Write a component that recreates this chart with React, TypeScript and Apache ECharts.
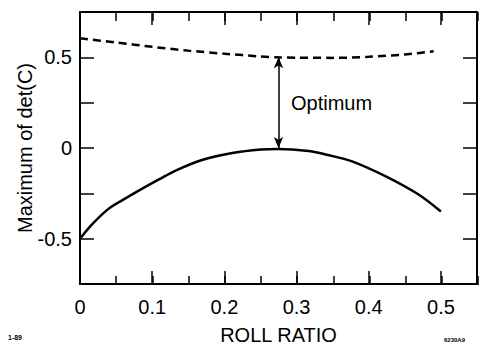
import React, { useEffect, useRef } from "react";
import * as echarts from "echarts";

// Roll ratio samples and the two curves of max det(C)
const solidX = [0, 0.017, 0.039, 0.06, 0.085, 0.11, 0.131, 0.169, 0.211, 0.25, 0.275, 0.317, 0.344, 0.376, 0.423, 0.468, 0.5];
const solidY = [-0.5, -0.42, -0.337, -0.285, -0.227, -0.172, -0.127, -0.066, -0.028, -0.008, -0.005, -0.017, -0.039, -0.072, -0.155, -0.254, -0.35];

const dashedX = [0, 0.05, 0.1, 0.15, 0.2, 0.25, 0.275, 0.3, 0.35, 0.4, 0.45, 0.49];
const dashedY = [0.605, 0.582, 0.558, 0.537, 0.52, 0.505, 0.5, 0.498, 0.497, 0.503, 0.516, 0.533];

// Optimum gap marker at this roll ratio
const optimumX = 0.275;
const optimumTop = 0.5;
const optimumBottom = 0;

const xLabelValues = [0, 0.1, 0.2, 0.3, 0.4, 0.5];
const yLabelValues = [-0.5, 0, 0.5];

const FONT = "'Liberation Sans', Arial, Helvetica, sans-serif";

const near = (a: number, b: number) => Math.abs(a - b) < 1e-6;

export default function App() {
  const ref = useRef<HTMLDivElement>(null);

  useEffect(() => {
    if (!ref.current) return;
    const chart = echarts.init(ref.current, undefined, { renderer: "svg" });

    const xFmt = (v: number) => {
      const hit = xLabelValues.find((t) => near(t, v));
      if (hit === undefined) return "";
      return hit === 0 ? "0" : hit.toFixed(1);
    };
    const yFmt = (v: number) => {
      const hit = yLabelValues.find((t) => near(t, v));
      if (hit === undefined) return "";
      return hit === 0 ? "0" : String(hit);
    };

    const gridRect = { left: 80, right: 2, top: 12, bottom: 65 };
    const frameLine = { show: true, onZero: false, lineStyle: { color: "#000", width: 2 } };

    const majorX = (position: "top" | "bottom", labels: boolean) => ({
      type: "value" as const,
      gridIndex: 0,
      position,
      min: 0,
      max: 0.55,
      interval: 0.1,
      axisLine: frameLine,
      axisTick: { show: true, inside: true, length: 13, lineStyle: { color: "#000", width: 1.5 } },
      axisLabel: labels
        ? { show: true, formatter: xFmt, color: "#000", fontSize: 20, fontFamily: FONT, margin: 13 }
        : { show: false },
      splitLine: { show: false },
      ...(labels
        ? {
            name: "ROLL RATIO",
            nameLocation: "middle" as const,
            nameGap: 41,
            nameMoveOverlap: false,
            nameTextStyle: { color: "#000", fontSize: 20, fontFamily: FONT },
          }
        : {}),
    });

    const minorX = (position: "top" | "bottom") => ({
      type: "value" as const,
      gridIndex: 1,
      position,
      min: 0,
      max: 0.55,
      interval: 0.05,
      axisLine: { show: false, onZero: false },
      axisTick: { show: true, inside: true, length: 9, lineStyle: { color: "#000", width: 1.5 } },
      axisLabel: { show: false },
      splitLine: { show: false },
    });

    const yAx = (position: "left" | "right", labels: boolean) => ({
      type: "value" as const,
      gridIndex: 0,
      position,
      min: -0.75,
      max: 0.75,
      interval: 0.25,
      axisLine: frameLine,
      axisTick: { show: true, inside: true, length: 14, lineStyle: { color: "#000", width: 1.5 } },
      axisLabel: labels
        ? { show: true, formatter: yFmt, color: "#000", fontSize: 20, fontFamily: FONT, margin: 8 }
        : { show: false },
      splitLine: { show: false },
      ...(labels
        ? {
            name: "Maximum of det(C)",
            nameLocation: "middle" as const,
            nameGap: 45,
            nameMoveOverlap: false,
            nameTextStyle: { color: "#000", fontSize: 20, fontFamily: FONT },
          }
        : {}),
    });

    chart.setOption({
      animation: false,
      backgroundColor: "#fff",
      grid: [
        { ...gridRect, containLabel: false },
        { ...gridRect, containLabel: false },
      ],
      xAxis: [majorX("bottom", true), majorX("top", false), minorX("bottom"), minorX("top")],
      yAxis: [
        yAx("left", true),
        yAx("right", false),
        { type: "value", gridIndex: 1, min: -0.75, max: 0.75, show: false },
      ],
      series: [
        {
          type: "line",
          xAxisIndex: 0,
          yAxisIndex: 0,
          data: solidX.map((x, i) => [x, solidY[i]]),
          smooth: 0.3,
          showSymbol: false,
          symbol: "none",
          lineStyle: { color: "#000", width: 2.5 },
          markLine: {
            silent: true,
            symbol: ["arrow", "arrow"],
            symbolSize: [7, 11],
            label: { show: false },
            lineStyle: { color: "#000", width: 1.5, type: "solid" },
            data: [[{ coord: [optimumX, optimumTop] }, { coord: [optimumX, optimumBottom] }]],
          },
        },
        {
          type: "line",
          xAxisIndex: 0,
          yAxisIndex: 0,
          data: dashedX.map((x, i) => [x, dashedY[i]]),
          smooth: 0.3,
          showSymbol: false,
          symbol: "none",
          lineStyle: { color: "#000", width: 2.5, type: [8, 5] },
        },
      ],
      graphic: [
        {
          type: "text",
          left: 291,
          top: 93,
          style: { text: "Optimum", fill: "#000", fontSize: 20, fontFamily: FONT },
        },
        {
          type: "text",
          left: 8,
          top: 334,
          style: { text: "1-89", fill: "#000", fontSize: 7, fontWeight: "bold", fontFamily: FONT },
        },
        {
          type: "text",
          left: 444,
          top: 337,
          style: { text: "6230A9", fill: "#000", fontSize: 6, fontWeight: "bold", fontFamily: FONT },
        },
      ],
    });

    return () => chart.dispose();
  }, []);

  return (
    <div
      ref={ref}
      style={{ position: "fixed", left: 0, top: 0, width: 480, height: 350, background: "#fff" }}
    />
  );
}
